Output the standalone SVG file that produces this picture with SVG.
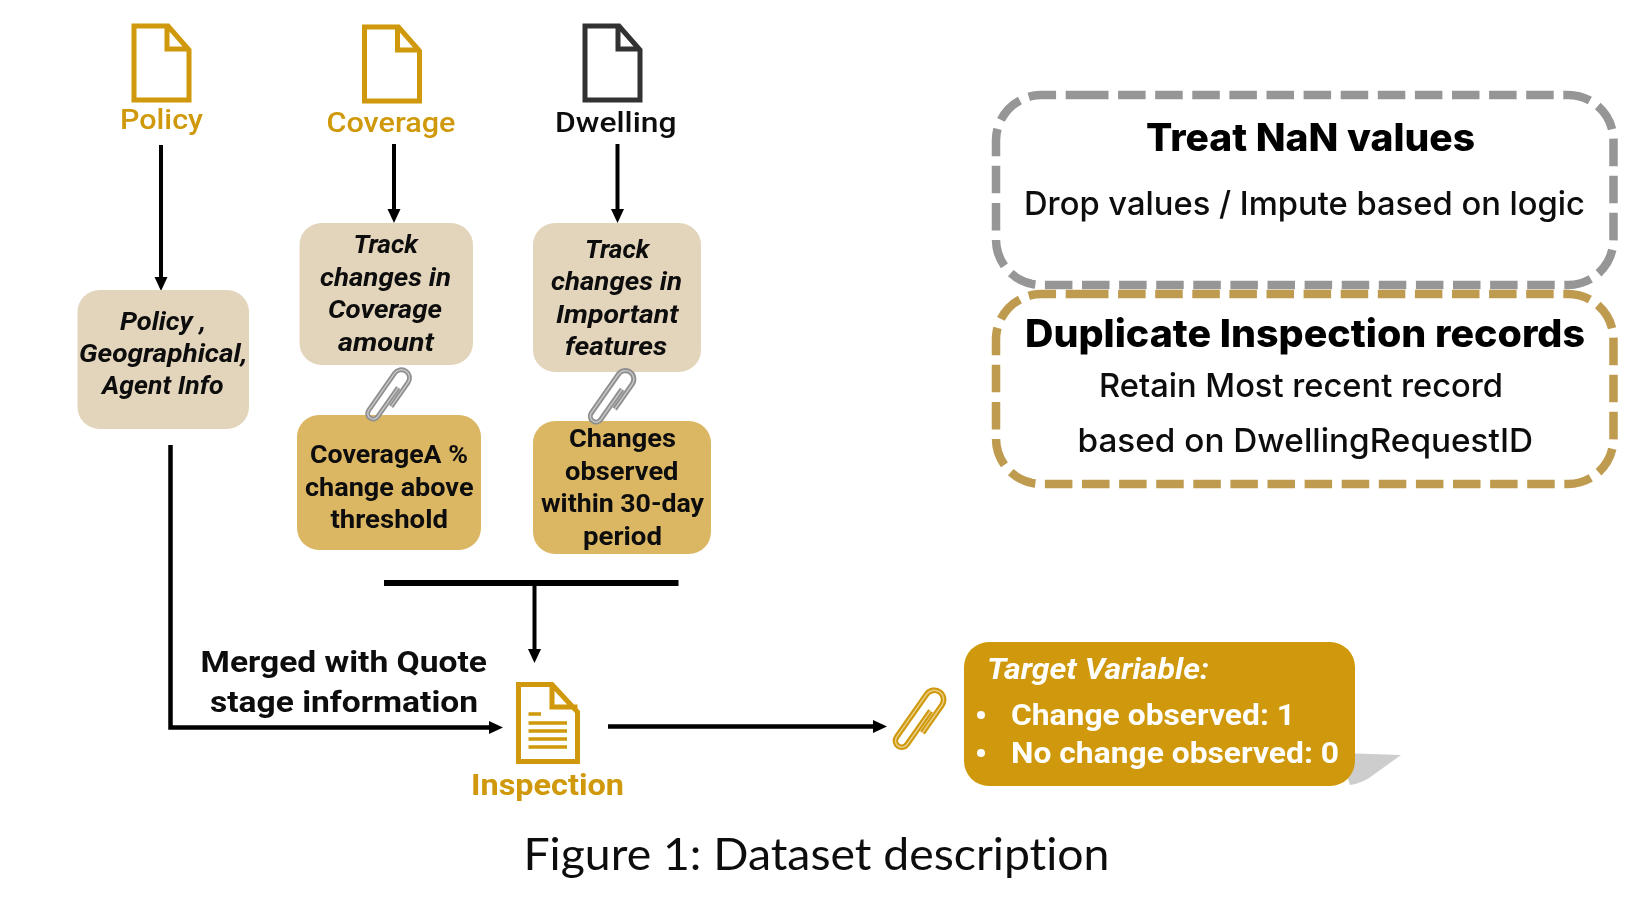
<svg xmlns="http://www.w3.org/2000/svg" xmlns:xlink="http://www.w3.org/1999/xlink" width="1650" height="898" viewBox="0 0 1650 898">
<style>
text{font-family:Roboto,"Liberation Sans",sans-serif}
.lab{font-size:28px;font-weight:500}
.gold{fill:#cf9807}
.blk{fill:#111}
.b{font-size:26.500px;font-weight:700;fill:#0c0c0c}
.i{font-style:italic}
.m{font-family:Inter,"Noto Sans",sans-serif}
.h{font-size:38px;font-weight:800;fill:#000}
.s{font-size:33px;font-weight:500;fill:#0a0a0a}
.w{fill:#fff;font-size:29px;font-weight:700}
.doc{fill:none;stroke-width:5;stroke-miterlimit:8}
.line{fill:none;stroke:#000;stroke-width:4}
.light{fill:#e3d5bc}
.tan{fill:#dcb764}
.dash{fill:none;stroke-width:8.500;stroke-dasharray:27.500 9.600}
</style>
<defs>
<filter id="soft" filterUnits="userSpaceOnUse" x="0" y="0" width="1650" height="898"><feGaussianBlur stdDeviation="0.45"/></filter>
<marker id="ah" markerUnits="userSpaceOnUse" markerWidth="16" markerHeight="16" refX="6" refY="7" orient="auto"><path d="M0,0.5 L14,7 L0,13.5 Z" fill="#000"/></marker>
<g id="docshape"><path d="M134 26H168L189 50V100H134Z M167 26V49H189"/></g>
<g id="clip"><path d="M8.300 8V-22A8.300 8.300 0 0 0-8.300-22V24.300A5.650 5.650 0 0 0 3 24.300V-12" fill="none" stroke="currentColor" stroke-width="5"/><path d="M8.300 8V-22A8.300 8.300 0 0 0-8.300-22V24.300A5.650 5.650 0 0 0 3 24.300V-12" fill="none" stroke="#fff" stroke-opacity=".5" stroke-width="1.400"/></g>
</defs>
<rect width="1650" height="898" fill="#fff"/>
<g filter="url(#soft)">
<g id="connectors">
<path class="line" marker-end="url(#ah)" d="M161 145V283"/>
<path class="line" marker-end="url(#ah)" d="M394 144V215"/>
<path class="line" marker-end="url(#ah)" d="M617.500 144V215"/>
<path class="line" style="stroke-width:4.500" marker-end="url(#ah)" d="M170.500 445V727.500H495"/>
<path class="line" style="stroke-width:6" d="M384 583H678.500"/>
<path class="line" marker-end="url(#ah)" d="M534.500 583V655"/>
<path class="line" style="stroke-width:4.500" marker-end="url(#ah)" d="M608 726.500H879"/>
</g>

<g id="policy-doc"><use xlink:href="#docshape" class="doc" stroke="#cf9807"/><text class="lab gold" x="120" y="129" textLength="83" lengthAdjust="spacingAndGlyphs">Policy</text></g>
<g id="coverage-doc"><use xlink:href="#docshape" class="doc" stroke="#cf9807" transform="translate(230.500 1)"/><text class="lab gold" x="326.500" y="132" textLength="129" lengthAdjust="spacingAndGlyphs">Coverage</text></g>
<g id="dwelling-doc"><use xlink:href="#docshape" class="doc" stroke="#333" transform="translate(451 0)"/><text class="lab blk" x="555" y="132" textLength="121.500" lengthAdjust="spacingAndGlyphs">Dwelling</text></g>

<g id="policy-box"><rect class="light" x="77.500" y="290" width="171.500" height="139" rx="22"/>
<text class="b i" x="120" y="330" textLength="86" lengthAdjust="spacingAndGlyphs">Policy ,</text>
<text class="b i" x="79" y="362" textLength="168.500" lengthAdjust="spacingAndGlyphs">Geographical,</text>
<text class="b i" x="102" y="394" textLength="121.500" lengthAdjust="spacingAndGlyphs">Agent Info</text></g>

<g id="coverage-box"><rect class="light" x="299.500" y="223" width="173.500" height="142" rx="22"/>
<text class="b i" x="353.500" y="253" textLength="64.500" lengthAdjust="spacingAndGlyphs">Track</text>
<text class="b i" x="320" y="286" textLength="131" lengthAdjust="spacingAndGlyphs">changes in</text>
<text class="b i" x="328" y="318" textLength="114" lengthAdjust="spacingAndGlyphs">Coverage</text>
<text class="b i" x="338" y="351" textLength="96" lengthAdjust="spacingAndGlyphs">amount</text></g>

<g id="dwelling-box"><rect class="light" x="533" y="223" width="168" height="149" rx="22"/>
<text class="b i" x="585" y="258" textLength="64.500" lengthAdjust="spacingAndGlyphs">Track</text>
<text class="b i" x="551" y="290" textLength="131" lengthAdjust="spacingAndGlyphs">changes in</text>
<text class="b i" x="556" y="323" textLength="122.500" lengthAdjust="spacingAndGlyphs">Important</text>
<text class="b i" x="565" y="355" textLength="102" lengthAdjust="spacingAndGlyphs">features</text></g>

<g id="coverage-threshold"><rect class="tan" x="297" y="415" width="184" height="135" rx="22"/>
<text class="b" x="310" y="463" textLength="158" lengthAdjust="spacingAndGlyphs">CoverageA %</text>
<text class="b" x="305" y="496" textLength="168.500" lengthAdjust="spacingAndGlyphs">change above</text>
<text class="b" x="330.500" y="528" textLength="117.500" lengthAdjust="spacingAndGlyphs">threshold</text></g>

<g id="dwelling-period"><rect class="tan" x="533" y="421" width="178" height="133" rx="22"/>
<text class="b" x="569" y="447" textLength="107" lengthAdjust="spacingAndGlyphs">Changes</text>
<text class="b" x="565" y="480" textLength="113.500" lengthAdjust="spacingAndGlyphs">observed</text>
<text class="b" x="541" y="512" textLength="163" lengthAdjust="spacingAndGlyphs">within 30-day</text>
<text class="b" x="583" y="545" textLength="79" lengthAdjust="spacingAndGlyphs">period</text></g>

<g id="clip-coverage" color="#8f8f8f"><use xlink:href="#clip" transform="translate(389 395.500) rotate(35) scale(.98)"/></g>
<g id="clip-dwelling" color="#8f8f8f"><use xlink:href="#clip" transform="translate(612.500 397.500) rotate(35) scale(1.020)"/></g>

<g id="inspection"><path class="doc" stroke="#cf9807" d="M518.500 684.500H552L577.500 712V761.500H518.500Z M552 684.500V707H577.500"/>
<path fill="none" stroke="#cf9807" stroke-width="3.500" d="M528.500 714H541M528.500 723H567M528.500 731H567M528.500 739H567M528.500 747H567"/>
<text class="lab gold" style="font-size:29px;font-weight:700" x="471" y="794.500" textLength="153" lengthAdjust="spacingAndGlyphs">Inspection</text></g>

<g id="merge-label"><text class="b" style="font-size:30px" x="200.500" y="672" textLength="286.500" lengthAdjust="spacingAndGlyphs">Merged with Quote</text>
<text class="b" style="font-size:30px" x="210" y="712" textLength="268" lengthAdjust="spacingAndGlyphs">stage information</text></g>

<g id="clip-target" color="#cf9807"><use xlink:href="#clip" transform="translate(920 720) rotate(35) scale(1.130)"/></g>

<g id="target"><path d="M1340 753L1401 755L1376 773Q1364 783 1350 785Z" fill="#cdcdcd"/>
<rect x="964" y="642" width="391" height="144" rx="25" fill="#cf9807"/>
<text class="w i" x="987" y="679" textLength="222" lengthAdjust="spacingAndGlyphs">Target Variable:</text>
<circle cx="981" cy="715" r="4" fill="#fff"/><circle cx="981" cy="753" r="4" fill="#fff"/>
<text class="w" x="1011" y="725" textLength="284" lengthAdjust="spacingAndGlyphs">Change observed: 1</text>
<text class="w" x="1011" y="763" textLength="328" lengthAdjust="spacingAndGlyphs">No change observed: 0</text></g>

<g id="nan"><path class="dash" stroke="#969696" d="M1081 95H1568A45.500 45.500 0 0 1 1613.500 140.500V239.500A45.500 45.500 0 0 1 1568 285H1041.500A45.500 45.500 0 0 1 996 239.500V140.500A45.500 45.500 0 0 1 1041.500 95H1081"/>
<text class="m h" x="1146" y="151" textLength="329" lengthAdjust="spacingAndGlyphs">Treat NaN values</text>
<text class="m s" x="1024" y="215" textLength="561" lengthAdjust="spacingAndGlyphs">Drop values / Impute based on logic</text></g>

<g id="duplicates"><path class="dash" stroke="#bf9b50" d="M1081 294H1568A45.500 45.500 0 0 1 1613.500 339.500V438.500A45.500 45.500 0 0 1 1568 484H1041.500A45.500 45.500 0 0 1 996 438.500V339.500A45.500 45.500 0 0 1 1041.500 294H1081"/>
<text class="m h" x="1025" y="347" textLength="560" lengthAdjust="spacingAndGlyphs">Duplicate Inspection records</text>
<text class="m s" x="1099" y="397" textLength="404" lengthAdjust="spacingAndGlyphs">Retain Most recent record</text>
<text class="m s" x="1077.500" y="452" textLength="455.500" lengthAdjust="spacingAndGlyphs">based on DwellingRequestID</text></g>

<g id="caption"><text x="523.500" y="870" style="font-family:Lato,'Noto Sans',sans-serif;font-size:44px;fill:#111;font-variant-ligatures:none" textLength="586" lengthAdjust="spacingAndGlyphs">Figure 1: Dataset description</text></g>
</g>
</svg>
